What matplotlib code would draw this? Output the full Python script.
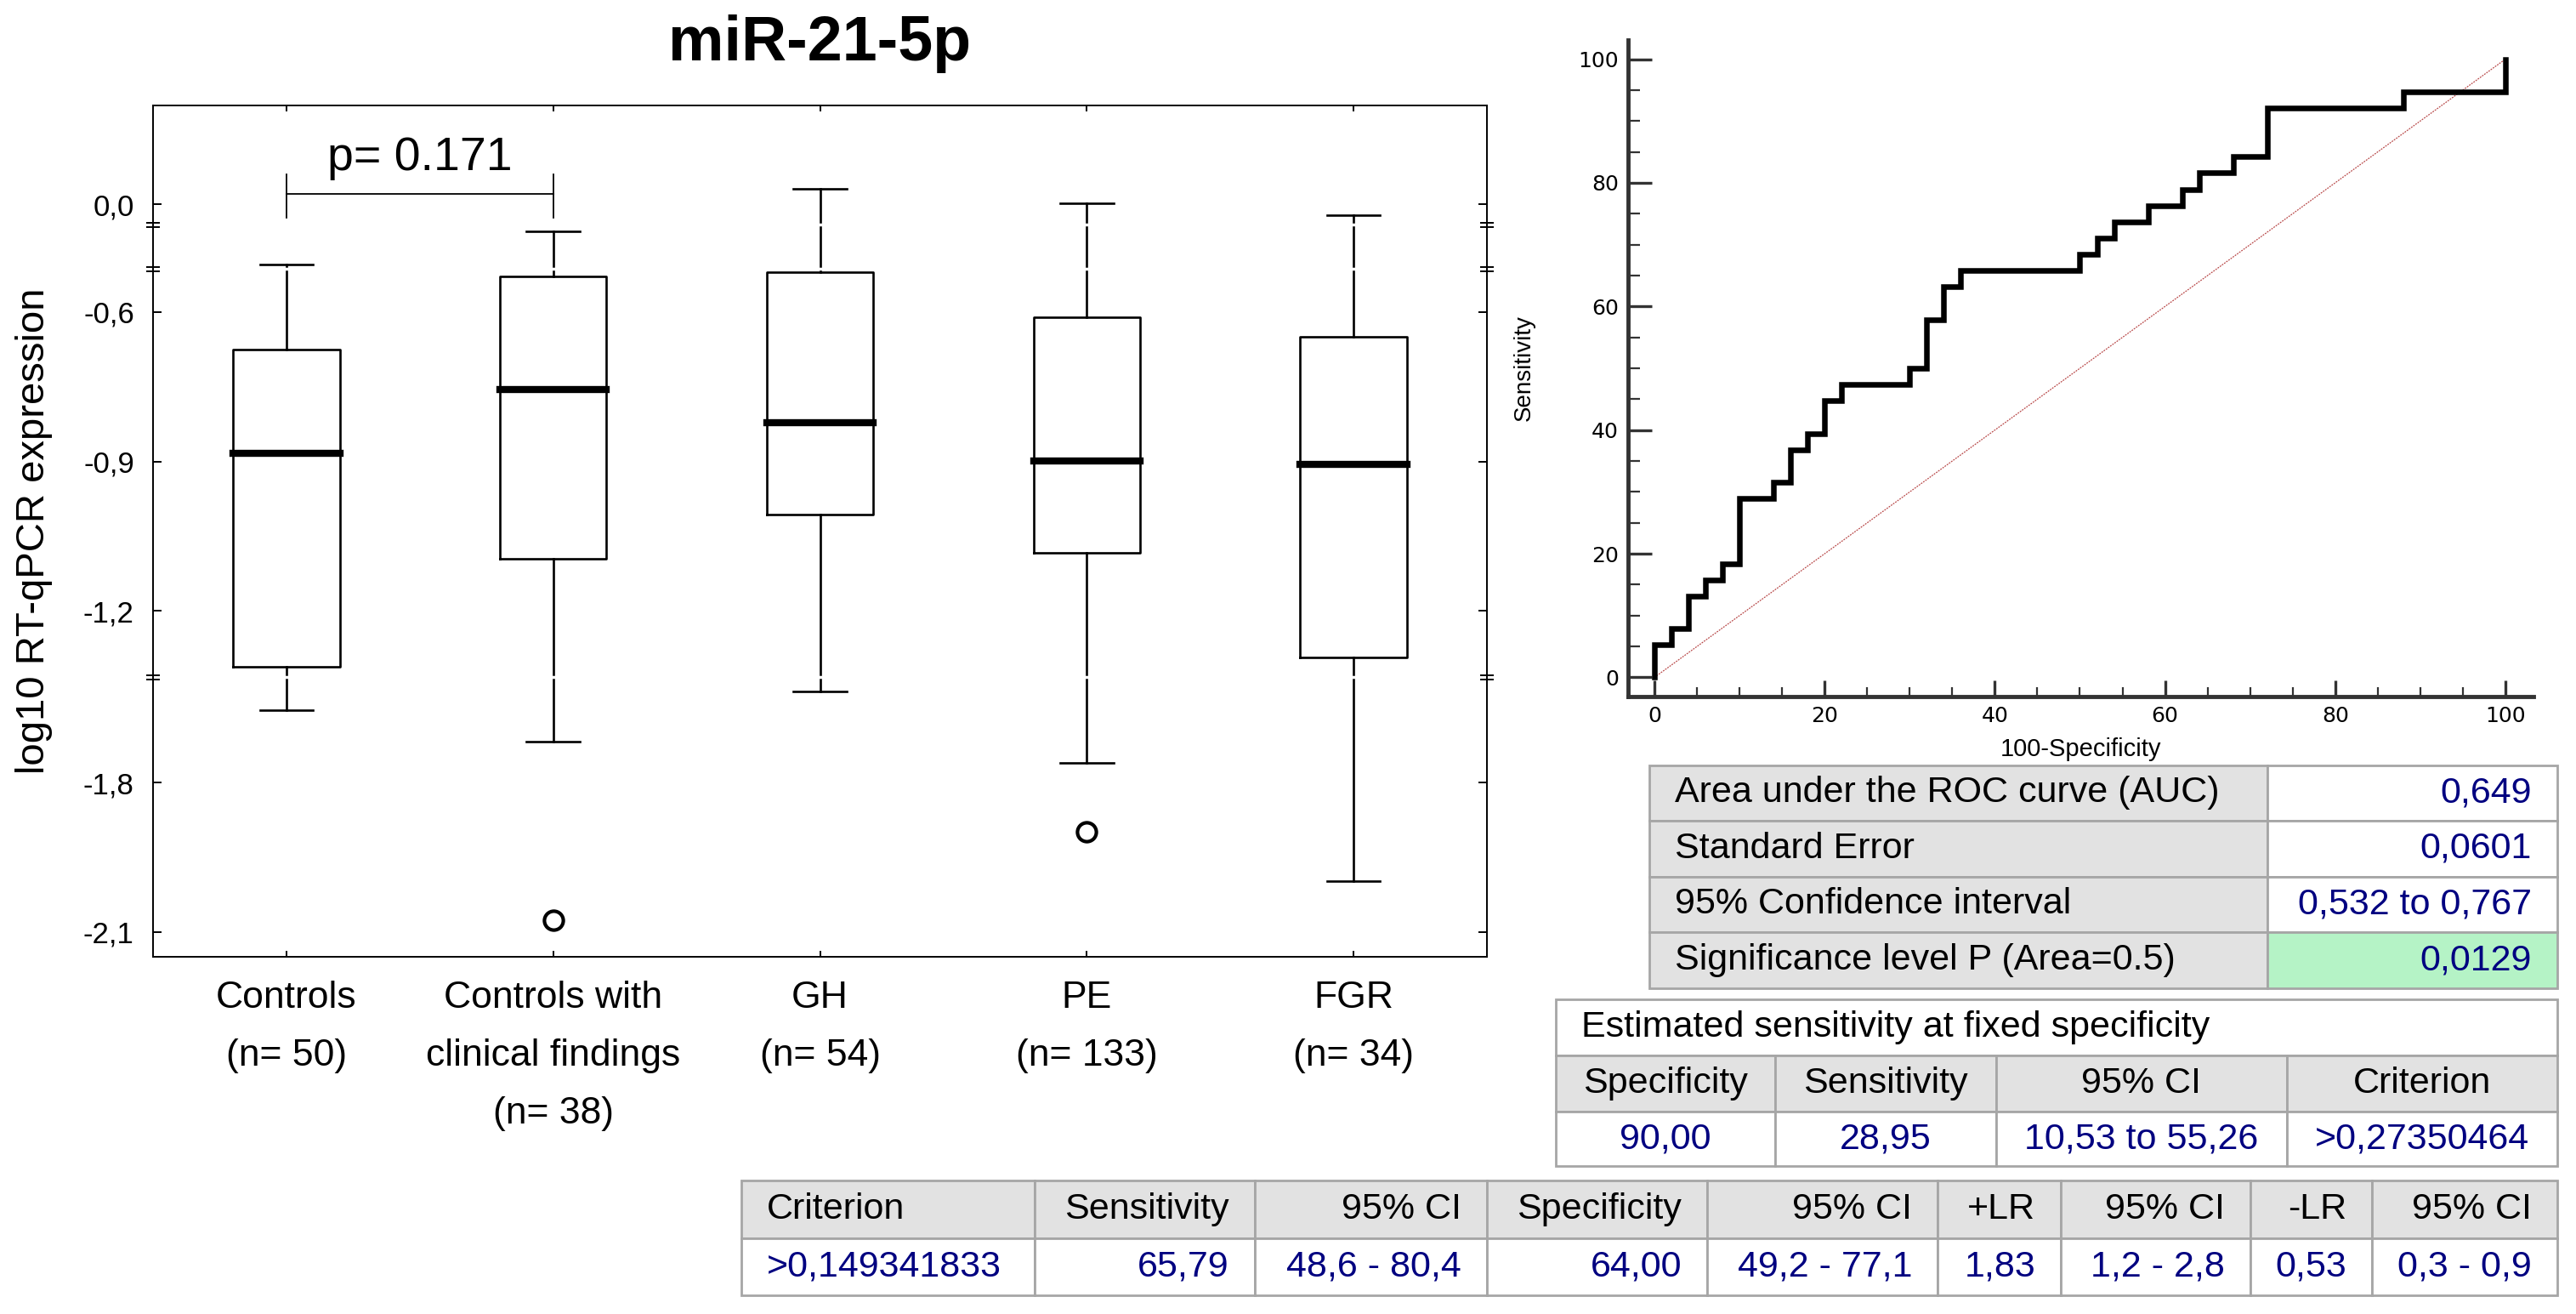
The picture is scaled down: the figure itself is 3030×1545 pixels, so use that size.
import numpy as np
import matplotlib
matplotlib.use('Agg')
import matplotlib.pyplot as plt
from matplotlib.patches import Rectangle
from matplotlib import transforms

plt.rcParams['font.family'] = ['Liberation Sans', 'DejaVu Sans']

# ---------------- data ----------------
groups = ["Controls\n(n= 50)", "Controls with\nclinical findings\n(n= 38)",
          "GH\n(n= 54)", "PE\n(n= 133)", "FGR\n(n= 34)"]
q1 = [-1.313, -1.095, -1.006, -1.084, -1.294]
med = [-0.883, -0.756, -0.822, -0.899, -0.906]
q3 = [-0.675, -0.526, -0.517, -0.610, -0.650]
whis_lo = [-1.653, -1.718, -1.616, -1.761, -1.998]
whis_hi = [-0.469, -0.109, 0.031, 0.002, -0.021]
outliers = [[], [-2.076], [], [-1.899], []]

ytick_vals = [0.0, -0.6, -0.9, -1.2, -1.8, -2.1]
ytick_labels = ["0,0", "-0,6", "-0,9", "-1,2", "-1,8", "-2,1"]
p_text = "p= 0.171"

# ROC curve (100-specificity, sensitivity)
roc_fpr = [0, 0, 2, 4, 6, 8, 10, 14, 16, 18, 20, 22, 30, 32, 34, 36,
           50, 52, 54, 58, 62, 64, 68, 72, 88, 100]
roc_sens = [0, 5.26, 7.89, 13.16, 15.79, 18.42, 28.95, 31.58, 36.84, 39.47,
            44.74, 47.37, 50.00, 57.89, 63.16, 65.79, 68.42, 71.05, 73.68,
            76.32, 78.95, 81.58, 84.21, 92.11, 94.74, 100]
diag = [0, 100]

auc_labels = ["Area under the ROC curve (AUC)", "Standard Error",
              "95% Confidence interval", "Significance level P (Area=0.5)"]
auc_values = ["0,649", "0,0601", "0,532 to 0,767", "0,0129"]

fixed_title = "Estimated sensitivity at fixed specificity"
fixed_header = ["Specificity", "Sensitivity", "95% CI", "Criterion"]
fixed_row = ["90,00", "28,95", "10,53 to 55,26", ">0,27350464"]

crit_header = ["Criterion", "Sensitivity", "95% CI", "Specificity", "95% CI",
               "+LR", "95% CI", "-LR", "95% CI"]
crit_row = [">0,149341833", "65,79", "48,6 - 80,4", "64,00", "49,2 - 77,1",
            "1,83", "1,2 - 2,8", "0,53", "0,3 - 0,9"]

# broken y axis of the box plot: value -> visual position
AXIS_VALS = [-2.15, -1.8, -1.59, -1.33, -1.2, -0.6, -0.51, -0.04, 0.0, 0.2]
AXIS_POS = [0, 205, 327, 331, 407, 758, 809, 861, 885, 1001]
BREAKS = [-0.04, -0.51, -1.46]


def fwd(v):
    return np.interp(v, AXIS_VALS, AXIS_POS)


def inv(u):
    return np.interp(u, AXIS_POS, AXIS_VALS)


W, H = 3030, 1545
fig = plt.figure(figsize=(W / 100, H / 100), dpi=100)

# ---------------- box plot ----------------
ax = fig.add_axes([180 / W, 1 - 1125 / H, 1569 / W, 1001 / H])
ax.set_yscale('function', functions=(fwd, inv))

stats = []
for i in range(len(groups)):
    stats.append(dict(med=med[i], q1=q1[i], q3=q3[i], whislo=whis_lo[i],
                      whishi=whis_hi[i], fliers=outliers[i]))
pos = np.arange(1, len(groups) + 1)
ax.bxp(stats, positions=pos, widths=0.4, capwidths=0.2, showfliers=True,
       boxprops=dict(color='black', lw=1.9),
       medianprops=dict(color='black', lw=6, solid_capstyle='projecting'),
       whiskerprops=dict(color='black', lw=1.9),
       capprops=dict(color='black', lw=1.9),
       flierprops=dict(marker='o', mfc='white', mec='black', ms=16, mew=3))

ax.set_xlim(0.5, 5.5)
ax.set_ylim(-2.15, 0.2)
ax.set_yticks(ytick_vals)
ax.set_yticklabels(ytick_labels)
ax.yaxis.set_minor_locator(matplotlib.ticker.NullLocator())
ax.set_xticks(pos)
ax.set_xticklabels(groups, linespacing=1.85)
ax.tick_params(axis='x', direction='in', top=True, length=5, width=1.4,
               labelsize=32, pad=20)
ax.tick_params(axis='y', direction='in', right=True, length=7, width=1.4,
               labelsize=25, pad=16)
for s in ax.spines.values():
    s.set_linewidth(1.4)

# axis breaks: white cut through the plot and marks on both spines
for b in BREAKS:
    ax.axhline(b, color='white', lw=2.5, zorder=2.3)
blend = transforms.blended_transform_factory(ax.transAxes, ax.transData)
for b in BREAKS:
    for xs in (0, 1):
        for dy in (-1.8, 1.8):
            tr = blend + transforms.ScaledTranslation(0, dy / 72, fig.dpi_scale_trans)
            ax.plot([xs], [b], marker='_', ms=12, mew=1.4, color='black',
                    transform=tr, clip_on=False, zorder=5)

# significance bracket
ax.plot([1, 2], [0.021, 0.021], color='black', lw=1.3)
ax.plot([1, 1], [-0.027, 0.060], color='black', lw=1.3)
ax.plot([2, 2], [-0.027, 0.060], color='black', lw=1.3)
ax.text(1.5, 0.069, p_text, ha='center', va='baseline', fontsize=40)

ax.set_title("miR-21-5p", fontsize=53, fontweight='bold', pad=38)
ax.set_ylabel("log10 RT-qPCR expression", fontsize=34, va='center')
ax.yaxis.set_label_coords(-0.089, 0.5)

# ---------------- ROC curve ----------------
ax2 = fig.add_axes([1915 / W, 1 - 819 / H, 1065 / W, 772 / H])
ax2.plot(roc_fpr, roc_sens, drawstyle='steps-post', color='black', lw=4.7,
         solid_joinstyle='miter', zorder=3)
ax2.plot(diag, diag, color='#b84848', lw=0.9, ls=(0, (1.5, 1)), zorder=2)
ax2.set_xlim(-3.1, 103.3)
ax2.set_ylim(-3.1, 103.1)
for side in ('top', 'right'):
    ax2.spines[side].set_visible(False)
for side in ('left', 'bottom'):
    ax2.spines[side].set_linewidth(3.5)
    ax2.spines[side].set_color('#333333')
ax2.set_xticks(np.arange(0, 101, 20))
ax2.set_yticks(np.arange(0, 101, 20))
ax2.set_xticks(np.arange(0, 101, 5), minor=True)
ax2.set_yticks(np.arange(0, 101, 5), minor=True)
ax2.tick_params(axis='y', which='major', direction='in', length=20, width=2.4,
                color='#333333', labelsize=18, pad=8)
ax2.tick_params(axis='y', which='minor', direction='in', length=10, width=1.6,
                color='#333333')
ax2.tick_params(axis='x', which='major', direction='in', length=14, width=2.4,
                color='#333333', labelsize=18, pad=8)
ax2.tick_params(axis='x', which='minor', direction='in', length=8, width=1.6,
                color='#333333')
for lab in ax2.get_xticklabels() + ax2.get_yticklabels():
    lab.set_family('DejaVu Sans')
ax2.set_xlabel("100-Specificity", fontsize=21, va='top')
ax2.xaxis.set_label_coords(0.5, -0.062)
ax2.set_ylabel("Sensitivity", fontsize=20, va='center')
ax2.yaxis.set_label_coords(-0.115, 0.5)

# ---------------- result tables ----------------
tb = fig.add_axes([0, 0, 1, 1])
tb.set_xlim(0, W)
tb.set_ylim(H, 0)
tb.axis('off')
tb.patch.set_visible(False)

EDGE = '#a6a6a6'
GREY = '#e2e2e2'
NAVY = '#000080'
FS = 31


def cell(x0, x1, y0, y1, text, face, color, ha):
    tb.add_patch(Rectangle((x0, y0), x1 - x0, y1 - y0, facecolor=face,
                           edgecolor=EDGE, lw=2))
    if ha == 'left':
        tx = x0 + 30
    elif ha == 'right':
        tx = x1 - 30
    else:
        tx = (x0 + x1) / 2
    tb.text(tx, (y0 + y1) / 2, text, ha=ha, va='center', fontsize=FS,
            color=color)


# AUC table
t1x = [1940, 2667, 3008]
t1y = [900, 965, 1031, 1096, 1162]
for i in range(len(auc_labels)):
    cell(t1x[0], t1x[1], t1y[i], t1y[i + 1], auc_labels[i], GREY, 'black', 'left')
    face = '#b5f3c6' if i == len(auc_labels) - 1 else 'white'
    cell(t1x[1], t1x[2], t1y[i], t1y[i + 1], auc_values[i], face, NAVY, 'right')

# fixed specificity table
t2x = [1830, 2088, 2348, 2690, 3008]
t2y = [1175, 1241, 1307, 1371]
cell(t2x[0], t2x[-1], t2y[0], t2y[1], fixed_title, 'white', 'black', 'left')
for j in range(len(fixed_header)):
    cell(t2x[j], t2x[j + 1], t2y[1], t2y[2], fixed_header[j], GREY, 'black', 'center')
    cell(t2x[j], t2x[j + 1], t2y[2], t2y[3], fixed_row[j], 'white', NAVY, 'center')

# criterion table
t3x = [872, 1217, 1476, 1749, 2008, 2279, 2424, 2647, 2790, 3008]
t3y = [1388, 1456, 1523]
for j in range(len(crit_header)):
    ha = 'left' if j == 0 else 'right'
    cell(t3x[j], t3x[j + 1], t3y[0], t3y[1], crit_header[j], GREY, 'black', ha)
    cell(t3x[j], t3x[j + 1], t3y[1], t3y[2], crit_row[j], 'white', NAVY, ha)

fig.savefig('out.png', dpi=100)
